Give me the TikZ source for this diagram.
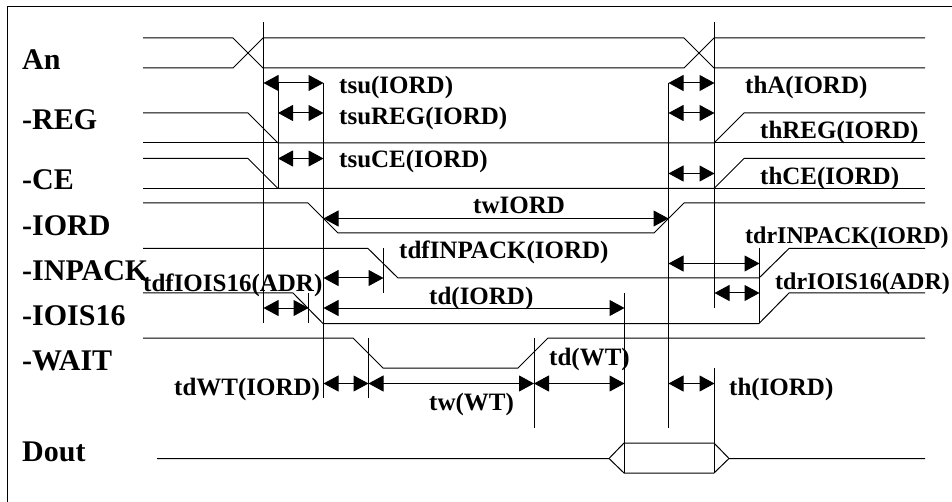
\documentclass[tikz,border=0pt]{standalone}
\usepackage{fontspec}
\setmainfont{Liberation Serif}
\usetikzlibrary{arrows.meta}
\tikzset{
  sig/.style={line width=1pt,black,line cap=butt,line join=miter},
  dim/.style={line width=1pt,black,{Triangle[length=15pt,width=16pt]}-{Triangle[length=15pt,width=16pt]}},
  big/.style={anchor=base west,inner sep=0pt,font=\fontsize{30}{30}\selectfont\bfseries},
  lab/.style={anchor=base west,inner sep=0pt,font=\fontsize{25}{25}\selectfont\bfseries},
  labs/.style={anchor=base west,inner sep=0pt,font=\fontsize{24}{24}\selectfont\bfseries}
}
\begin{document}
\begin{tikzpicture}[x=1pt,y=-1pt]
\useasboundingbox (0,0) rectangle (952,502);
% frame
\draw[sig] (7.5,502) -- (7.5,7) -- (952,7);
% signals
\draw[sig] (143,38) -- (233,38) -- (263,68) -- (684,68) -- (714,38) -- (925,38);
\draw[sig] (143,68) -- (233,68) -- (263,38) -- (684,38) -- (714,68) -- (925,68);
\draw[sig] (143,113) -- (248,113) -- (278,143) -- (714,143) -- (744,113) -- (925,113);
\draw[sig] (143,143) -- (278,143);
\draw[sig] (714,143) -- (925,143);
\draw[sig] (143,158.5) -- (248,158.5) -- (278,188.5) -- (714,188.5) -- (744,158.5) -- (925,158.5);
\draw[sig] (143,188.5) -- (925,188.5);
\draw[sig] (143,203) -- (308,203) -- (338,233) -- (654,233) -- (684,203) -- (925,203);
\draw[sig] (143,248.5) -- (368,248.5) -- (398,278) -- (759,278) -- (789,248.5) -- (925,248.5);
\draw[sig] (143,293) -- (293,293) -- (323,323.5) -- (759,323.5) -- (789,293) -- (925,293);
\draw[sig] (143,338) -- (353,338) -- (383,368) -- (518,368) -- (548,338) -- (925,338);
\draw[sig] (157,458.5) -- (609,458.5) -- (624,443) -- (714,443) -- (729,458.5) -- (925,458.5);
\draw[sig] (609,458.5) -- (624,473) -- (714,473) -- (729,458.5);
% verticals
\draw[sig] (263.5,22) -- (263.5,323);
\draw[sig] (278,83) -- (278,188);
\draw[sig] (323.5,83) -- (323.5,398);
\draw[sig] (668.5,83) -- (668.5,428);
\draw[sig] (714.5,22) -- (714.5,308);
\draw[sig] (714.5,368) -- (714.5,473);
\draw[sig] (383.5,248) -- (383.5,293);
\draw[sig] (308.5,293) -- (308.5,323);
\draw[sig] (368.5,338) -- (368.5,398);
\draw[sig] (534,338) -- (534,428);
\draw[sig] (624.5,293) -- (624.5,473);
\draw[sig] (759.5,248) -- (759.5,323);
% dimension arrows
\draw[dim] (263.5,83) -- (323.5,83);
\draw[dim] (278,113) -- (323.5,113);
\draw[dim] (278,158.5) -- (323.5,158.5);
\draw[dim] (668.5,83) -- (714.5,83);
\draw[dim] (668.5,113) -- (714.5,113);
\draw[dim] (668.5,173.5) -- (714.5,173.5);
\draw[dim] (323.5,218.5) -- (668.5,218.5);
\draw[dim] (668.5,263.5) -- (759.5,263.5);
\draw[dim] (714.5,293) -- (759.5,293);
\draw[dim] (323.5,278) -- (383.5,278);
\draw[dim] (263.5,308) -- (308.5,308);
\draw[dim] (323.5,308) -- (624.5,308);
\draw[dim] (323.5,383.5) -- (368.5,383.5);
\draw[dim] (368.5,383.5) -- (534,383.5);
\draw[dim] (534,383.5) -- (624.5,383.5);
\draw[dim] (668.5,383.5) -- (714.5,383.5);
% signal names
\node[big] (nAn) at (22,70) {An};
\node[big] (nReg) at (22,130) {-REG};
\node[big] (nCe) at (22,190) {-CE};
\node[big] (nIord) at (22,236) {-IORD};
\node[big] (nInp) at (22,280) {-INPACK};
\node[big] (nIois) at (22,325) {-IOIS16};
\node[big] (nWait) at (22,370) {-WAIT};
\node[big] (nDout) at (22,461) {Dout};
% timing labels
\node[lab] (l1) at (339,94) {tsu(IORD)};
\node[lab] (l2) at (339,125) {tsuREG(IORD)};
\node[lab] (l3) at (339,168) {tsuCE(IORD)};
\node[lab] (l4) at (745,94) {thA(IORD)};
\node[lab] (l5) at (760,139) {thREG(IORD)};
\node[lab] (l6) at (760,185) {thCE(IORD)};
\node[lab] (l7) at (473,214) {twIORD};
\node[lab] (l8) at (399,259) {tdfINPACK(IORD)};
\node[labs] (l9) at (745,244) {tdrINPACK(IORD)};
\node[labs] (l10) at (775,290) {tdrIOIS16(ADR)};
\node[lab] (l11) at (143,291) {tdfIOIS16(ADR)};
\node[lab] (l12) at (429,305) {td(IORD)};
\node[lab] (l13) at (549,365) {td(WT)};
\node[lab] (l14) at (174,395) {tdWT(IORD)};
\node[lab] (l15) at (429,410) {tw(WT)};
\node[lab] (l16) at (729,395) {th(IORD)};
\end{tikzpicture}
\end{document}
